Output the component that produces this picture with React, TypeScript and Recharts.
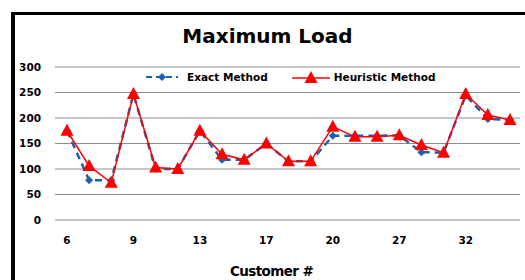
import { LineChart, Line, XAxis, YAxis, CartesianGrid } from 'recharts'

const customers = ['6', '7', '8', '9', '11', '12', '13', '14', '15', '17', '18', '19', '20', '22', '25', '27', '28', '30', '32', '33', '35']
const exactMethod = [175, 78, 78, 247, 100, 100, 175, 118, 118, 150, 115, 115, 165, 165, 165, 166, 133, 132, 244, 198, 196]
const heuristicMethod = [175, 106, 73, 247, 103, 100, 175, 129, 118, 150, 115, 115, 183, 163, 163, 166, 147, 132, 247, 206, 196]
const yTicks = [0, 50, 100, 150, 200, 250, 300]

const data = customers.map((c, i) => ({
  customer: c,
  exact: exactMethod[i],
  heuristic: heuristicMethod[i],
}))

const font = '"DejaVu Sans", Verdana, sans-serif'

function TriangleDot(props: any) {
  const { cx, cy } = props
  if (cx == null || cy == null) return null
  return <polygon points={`${cx},${cy - 7} ${cx - 6.5},${cy + 5} ${cx + 6.5},${cy + 5}`} fill="#ff0000" />
}

function DiamondDot(props: any) {
  const { cx, cy } = props
  if (cx == null || cy == null) return null
  return <polygon points={`${cx},${cy - 4} ${cx + 4},${cy} ${cx},${cy + 4} ${cx - 4},${cy}`} fill="#1f5fb0" />
}

function LegendBox() {
  return (
    <div style={{ display: 'flex', alignItems: 'center', fontFamily: font, fontWeight: 'bold', fontSize: 10.5, color: '#000' }}>
      <svg width={34} height={12} style={{ marginRight: 8 }}>
        <line x1={1} y1={6} x2={33} y2={6} stroke="#1f5fb0" strokeWidth={2} strokeDasharray="6 4" />
        <polygon points="17,2 21,6 17,10 13,6" fill="#1f5fb0" />
      </svg>
      <span>Exact Method</span>
      <svg width={38} height={14} style={{ marginLeft: 24, marginRight: 4 }}>
        <line x1={0} y1={8} x2={38} y2={8} stroke="#ff0000" strokeWidth={1.5} />
        <polygon points="19,1 25.5,13 12.5,13" fill="#ff0000" />
      </svg>
      <span>Heuristic Method</span>
    </div>
  )
}

export default function App() {
  return (
    <div style={{ position: 'fixed', top: 0, left: 0, width: 525, height: 280, overflow: 'hidden', background: '#fff' }}>
      <div
        style={{
          position: 'absolute',
          left: 11,
          top: 12,
          width: 540,
          height: 320,
          border: '3px solid #000',
          borderLeftWidth: 4,
        }}
      />
      <div
        style={{
          position: 'absolute',
          left: 0,
          width: 535,
          top: 24,
          textAlign: 'center',
          fontFamily: font,
          fontWeight: 'bold',
          fontSize: 20,
          color: '#000',
        }}
      >
        Maximum Load
      </div>
      <div style={{ position: 'absolute', top: 0, left: 0 }}>
        <LineChart width={525} height={280} data={data} margin={{ top: 67, right: 5, left: 0, bottom: 0 }}>
          <CartesianGrid vertical={false} stroke="#8c8c8c" strokeWidth={1} />
          <XAxis
            dataKey="customer"
            interval={2}
            axisLine={false}
            tickLine={false}
            tickSize={0}
            tickMargin={17}
            height={60}
            padding={{ left: 12, right: 10 }}
            tick={{ fontFamily: font, fontWeight: 'bold', fontSize: 10.5, fill: '#000' }}
          />
          <YAxis
            domain={[0, 300]}
            ticks={yTicks}
            axisLine={false}
            tickLine={false}
            tickSize={0}
            tickMargin={14}
            width={55}
            tick={{ fontFamily: font, fontWeight: 'bold', fontSize: 10.5, fill: '#000' }}
          />
          <Line
            type="linear"
            dataKey="exact"
            name="Exact Method"
            stroke="#1f5fb0"
            strokeWidth={2.5}
            strokeDasharray="7 5"
            dot={<DiamondDot />}
            activeDot={false}
            isAnimationActive={false}
          />
          <Line
            type="linear"
            dataKey="heuristic"
            name="Heuristic Method"
            stroke="#ff0000"
            strokeWidth={1.5}
            dot={<TriangleDot />}
            activeDot={false}
            isAnimationActive={false}
          />
        </LineChart>
      </div>
      <div style={{ position: 'absolute', top: 70, left: 145 }}>
        <LegendBox />
      </div>
      <div
        style={{
          position: 'absolute',
          left: 230,
          top: 263,
          fontFamily: font,
          fontWeight: 'bold',
          fontSize: 13.5,
          letterSpacing: -0.6,
          color: '#000',
        }}
      >
        Customer #
      </div>
    </div>
  )
}
